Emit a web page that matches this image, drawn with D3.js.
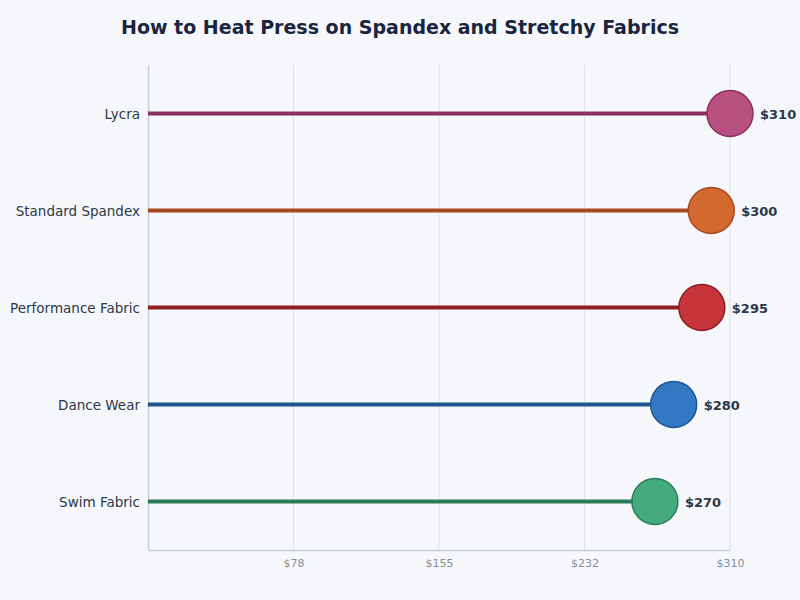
<!DOCTYPE html>
<html>
<head>
<meta charset="utf-8">
<script src="https://cdn.jsdelivr.net/npm/d3@7"></script>
<style>
  body { margin: 0; background: #f5f7fb; }
  svg { font-family: "DejaVu Sans", sans-serif; }
</style>
</head>
<body>
<div id="chart"></div>
<script>
// data
const fabrics = ["Lycra", "Standard Spandex", "Performance Fabric", "Dance Wear", "Swim Fabric"];
const prices = [310, 300, 295, 280, 270];
const fillColors = ["#b85080", "#d4692f", "#c5353a", "#3378c2", "#45ab7e"];
const lineColors = ["#8b2f5f", "#a64b1f", "#8f1d22", "#1f5590", "#2a7d57"];
const tickValues = [77.5, 155, 232.5, 310];
const tickLabels = ["$78", "$155", "$232", "$310"];

const width = 800, height = 600;
const margin = {top: 65, right: 70, bottom: 50, left: 148};

const svg = d3.select("#chart")
  .append("svg")
  .attr("width", width)
  .attr("height", height);

svg.append("rect")
  .attr("width", width)
  .attr("height", height)
  .attr("fill", "#f5f7fb");

svg.append("text")
  .attr("x", width / 2)
  .attr("y", 34)
  .attr("text-anchor", "middle")
  .attr("font-size", "19px")
  .attr("font-weight", "bold")
  .attr("fill", "#1a2540")
  .text("How to Heat Press on Spandex and Stretchy Fabrics");

const x = d3.scaleLinear()
  .domain([0, 310])
  .range([margin.left, width - margin.right]);

const y = d3.scaleBand()
  .domain(fabrics)
  .range([margin.top, height - margin.bottom]);

const rows = fabrics.map((f, i) => ({name: f, value: prices[i], fill: fillColors[i], line: lineColors[i]}));

// grid
svg.append("g")
  .selectAll("line")
  .data(tickValues)
  .join("line")
  .attr("x1", d => x(d))
  .attr("x2", d => x(d))
  .attr("y1", margin.top)
  .attr("y2", height - margin.bottom)
  .attr("stroke", "#dde0e6")
  .attr("stroke-width", 1);

// axes
const xAxis = svg.append("g")
  .attr("transform", `translate(0,${height - margin.bottom})`)
  .call(d3.axisBottom(x).tickValues(tickValues).tickSize(0).tickPadding(9)
    .tickFormat((d, i) => tickLabels[i]));
xAxis.select(".domain").attr("stroke", "#c8ccd4").attr("stroke-width", 1.5);
xAxis.selectAll("text")
  .attr("font-size", "11px")
  .attr("fill", "#8a8f9a")
  .attr("font-family", "DejaVu Sans, sans-serif");

const yAxis = svg.append("g")
  .attr("transform", `translate(${margin.left},0)`)
  .call(d3.axisLeft(y).tickSize(0).tickPadding(8));
yAxis.select(".domain").attr("stroke", "#c8ccd4").attr("stroke-width", 1.5);
yAxis.selectAll("text")
  .attr("font-size", "13.5px")
  .attr("dy", "0.42em")
  .attr("fill", "#2d3748")
  .attr("font-family", "DejaVu Sans, sans-serif");

// lollipops
const g = svg.append("g");

g.selectAll("line.stem")
  .data(rows)
  .join("line")
  .attr("class", "stem")
  .attr("x1", x(0))
  .attr("x2", d => x(d.value))
  .attr("y1", d => y(d.name) + y.bandwidth() / 2)
  .attr("y2", d => y(d.name) + y.bandwidth() / 2)
  .attr("stroke", d => d.line)
  .attr("stroke-width", 4);

g.selectAll("circle")
  .data(rows)
  .join("circle")
  .attr("cx", d => x(d.value))
  .attr("cy", d => y(d.name) + y.bandwidth() / 2)
  .attr("r", 23)
  .attr("fill", d => d.fill)
  .attr("stroke", d => d.line)
  .attr("stroke-width", 1.5);

g.selectAll("text.val")
  .data(rows)
  .join("text")
  .attr("class", "val")
  .attr("x", d => x(d.value) + 30)
  .attr("y", d => y(d.name) + y.bandwidth() / 2)
  .attr("dy", "0.42em")
  .attr("font-size", "13px")
  .attr("font-weight", "bold")
  .attr("fill", "#2d3748")
  .text(d => "$" + d.value);
</script>
</body>
</html>
